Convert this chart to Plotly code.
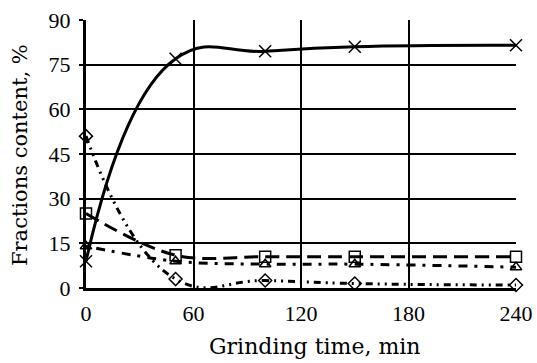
import plotly.graph_objects as go

time_min = [0, 50, 100, 150, 240]
cross_vals = [9, 77, 79.5, 81, 81.5]
diamond_vals = [51, 3, 2.5, 1.5, 1]
square_vals = [25, 11, 10.5, 10.5, 10.5]
triangle_vals = [14, 9, 8, 8, 7]

x_ticks = [0, 60, 120, 180, 240]
y_ticks = [0, 15, 30, 45, 60, 75, 90]
x_title = "Grinding time, min"
y_title = "Fractions content, %"

TICK_FONT = "Liberation Serif"
TITLE_FONT = "DejaVu Serif"

fig = go.Figure()

series = [
    (cross_vals, "x-thin-open", "solid", 12, 1.3),
    (diamond_vals, "diamond-open", "7px,5px,2px,5px,2px,5px", 10, 1.3),
    (square_vals, "square-open", "14px,7px", 11, 1.0),
    (triangle_vals, "triangle-up-open", "3px,7px,9px,7px", 10, 1.0),
]
for vals, sym, dash, msize, sm in series:
    fig.add_trace(go.Scatter(
        x=time_min, y=vals, mode="lines+markers",
        line=dict(color="black", width=3, dash=dash, shape="spline", smoothing=sm),
        marker=dict(symbol=sym, size=msize, color="black",
                    line=dict(color="black", width=1.5)),
        cliponaxis=False, showlegend=False, hoverinfo="skip",
    ))

W, H = 537, 363
L, R, T, B = 86, 21, 20, 75

fig.update_layout(
    width=W, height=H,
    margin=dict(l=L, r=R, t=T, b=B, autoexpand=False),
    paper_bgcolor="white", plot_bgcolor="white",
    font=dict(family=TICK_FONT, size=22, color="#000000"),
    xaxis=dict(
        range=[0, 240], tickvals=x_ticks, ticktext=[str(v) for v in x_ticks],
        showgrid=True, gridcolor="black", gridwidth=2,
        showline=True, linecolor="black", linewidth=3, mirror=False,
        zeroline=False, ticks="", ticklabelstandoff=4, automargin=False,
    ),
    yaxis=dict(
        range=[0, 90], tickvals=y_ticks, ticktext=[str(v) for v in y_ticks],
        showgrid=True, gridcolor="black", gridwidth=2,
        showline=True, linecolor="black", linewidth=3,
        zeroline=False, ticks="outside", ticklen=4, tickwidth=2, tickcolor="black",
        ticklabelstandoff=4, automargin=False,
    ),
    annotations=[
        dict(text=x_title, xref="paper", yref="paper",
             x=(314 - L) / (W - L - R), y=-(346 - (H - B)) / (H - T - B),
             xanchor="center", yanchor="middle", showarrow=False,
             font=dict(family=TITLE_FONT, size=22, color="#000000")),
        dict(text=y_title, xref="paper", yref="paper", textangle=-90,
             x=-(L - 20) / (W - L - R), y=((H - B) - 155) / (H - T - B),
             xanchor="center", yanchor="middle", showarrow=False,
             font=dict(family=TITLE_FONT, size=21, color="#000000")),
    ],
)

fig.write_html("out.html", config={"displayModeBar": False},
               post_script="document.body.style.margin='0';document.body.style.overflow='hidden';")
